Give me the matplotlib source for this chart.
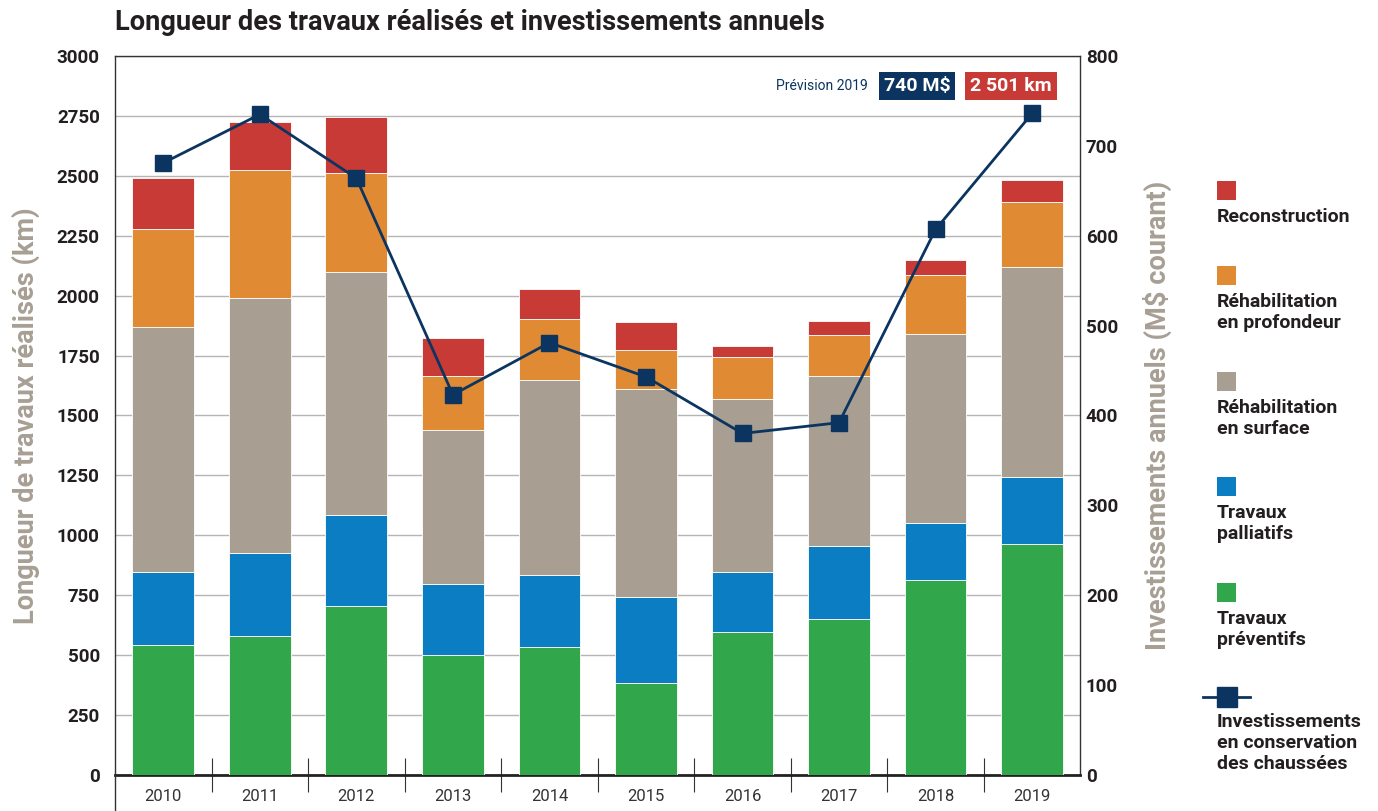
import matplotlib
matplotlib.use("Agg")
from matplotlib import pyplot as plt
from matplotlib.lines import Line2D
import numpy as np

plt.rcParams['font.family'] = ['Roboto', 'DejaVu Sans']

years = ['2010', '2011', '2012', '2013', '2014', '2015', '2016', '2017', '2018', '2019']
preventifs = [542, 580, 705, 501, 534, 384, 597, 651, 814, 964]
palliatifs = [305, 346, 380, 296, 300, 359, 250, 304, 237, 279]
surface = [1022, 1064, 1014, 642, 814, 867, 722, 710, 789, 876]
profondeur = [409, 534, 413, 226, 254, 163, 175, 171, 246, 272]
reconstruction = [212, 200, 233, 158, 126, 117, 46, 58, 63, 90]
investissements = [681, 735, 664, 423, 481, 443, 380, 392, 607, 736]

c_red = '#c83a36'
c_orange = '#e08a33'
c_gray = '#a89e92'
c_blue = '#0a7dc3'
c_green = '#31a64b'
c_navy = '#0b3560'
c_label = '#a89f94'
c_text = '#231f20'

fig = plt.figure(figsize=(13.78, 8.11), dpi=100)
ax = fig.add_axes([0.0835, 0.0444, 0.7005, 0.8866])

x = np.arange(len(years))
w = 0.64
series = [(preventifs, c_green), (palliatifs, c_blue), (surface, c_gray),
          (profondeur, c_orange), (reconstruction, c_red)]
bottom = np.zeros(len(years))
for vals, col in series:
    ax.bar(x, vals, w, bottom=bottom, color=col, edgecolor='white', linewidth=0.6, zorder=3)
    bottom += np.array(vals)

ax.set_xlim(-0.5, 9.5)
ax.set_ylim(0, 3000)
ax.set_yticks(range(0, 3001, 250))
ax.grid(axis='y', color='#b5b5b5', linewidth=1, zorder=0)
ax.set_xticks(x)
ax.set_xticklabels(years, fontsize=12, color='#333333')
ax.tick_params(axis='x', which='major', length=0, pad=10)
ax.set_xticks(np.arange(0.5, 9.5, 1), minor=True)
ax.tick_params(axis='x', which='minor', direction='inout', length=24, width=0.8, color='#333333')
ax.tick_params(axis='y', length=0, pad=11, labelsize=13.5)
for lbl in ax.get_yticklabels():
    lbl.set_fontweight('bold')
    lbl.set_color(c_text)
for side in ['left', 'right', 'top']:
    ax.spines[side].set_color('#333333')
    ax.spines[side].set_linewidth(1)
ax.spines['bottom'].set_color('#222222')
ax.spines['bottom'].set_linewidth(2)
ax.set_ylabel('Longueur de travaux réalisés (km)', fontsize=19.5, fontweight='bold',
              color=c_label, labelpad=12)

ax2 = ax.twinx()
ax2.plot(x, investissements, color=c_navy, linewidth=2, marker='s', markersize=12,
         zorder=5)
ax2.set_ylim(0, 800)
ax2.set_yticks(range(0, 801, 100))
ax2.tick_params(axis='y', length=0, pad=4, labelsize=13.5)
for lbl in ax2.get_yticklabels():
    lbl.set_fontweight('bold')
    lbl.set_color(c_text)
for side in ['left', 'right', 'top', 'bottom']:
    ax2.spines[side].set_visible(False)
ax2.set_ylabel('Investissements annuels (M$ courant)', fontsize=19.5, fontweight='bold',
               color=c_label, labelpad=18)

# left border continuing below the axis
fig.add_artist(Line2D([0.0835, 0.0835], [0, 0.0444], color='#333333', linewidth=1))

fig.text(0.0835, 0.972, 'Longueur des travaux réalisés et investissements annuels',
         fontsize=19.6, fontweight='bold', color=c_text, va='center')

W, H = 1378.0, 811.0

# forecast boxes
fig.text(868 / W, 1 - 86 / H, 'Prévision 2019', fontsize=10, color=c_navy,
         ha='right', va='center')
fig.text(917 / W, 1 - 86 / H, '740 M$', fontsize=14, fontweight='bold', color='white',
         ha='center', va='center',
         bbox=dict(boxstyle='square,pad=0.25', facecolor=c_navy, edgecolor='none'))
fig.text(1011 / W, 1 - 86 / H, '2 501 km', fontsize=14, fontweight='bold', color='white',
         ha='center', va='center',
         bbox=dict(boxstyle='square,pad=0.25', facecolor=c_red, edgecolor='none'))

# legend
legend = [
    (c_red, 'Reconstruction', 181),
    (c_orange, 'Réhabilitation\nen profondeur', 266),
    (c_gray, 'Réhabilitation\nen surface', 372),
    (c_blue, 'Travaux\npalliatifs', 477),
    (c_green, 'Travaux\npréventifs', 583),
]
for col, txt, ypx in legend:
    fig.patches.append(plt.Rectangle((1217 / W, 1 - (ypx + 19) / H), 19 / W, 19 / H,
                                     transform=fig.transFigure, facecolor=col,
                                     edgecolor='none'))
    fig.text(1217 / W, 1 - (ypx + 27) / H, txt, fontsize=14, fontweight='bold',
             color=c_text, va='top', ha='left', linespacing=1.2)

ly = 1 - 697 / H
fig.add_artist(Line2D([1203 / W, 1250 / W], [ly, ly], color=c_navy, linewidth=2))
fig.add_artist(Line2D([1226.5 / W], [ly], color=c_navy, marker='s', markersize=14,
                      linestyle='none'))
fig.text(1217 / W, 1 - 713 / H, 'Investissements\nen conservation\ndes chaussées',
         fontsize=14, fontweight='bold', color=c_text, va='top', ha='left',
         linespacing=1.2)

fig.savefig('out.png', dpi=100)
